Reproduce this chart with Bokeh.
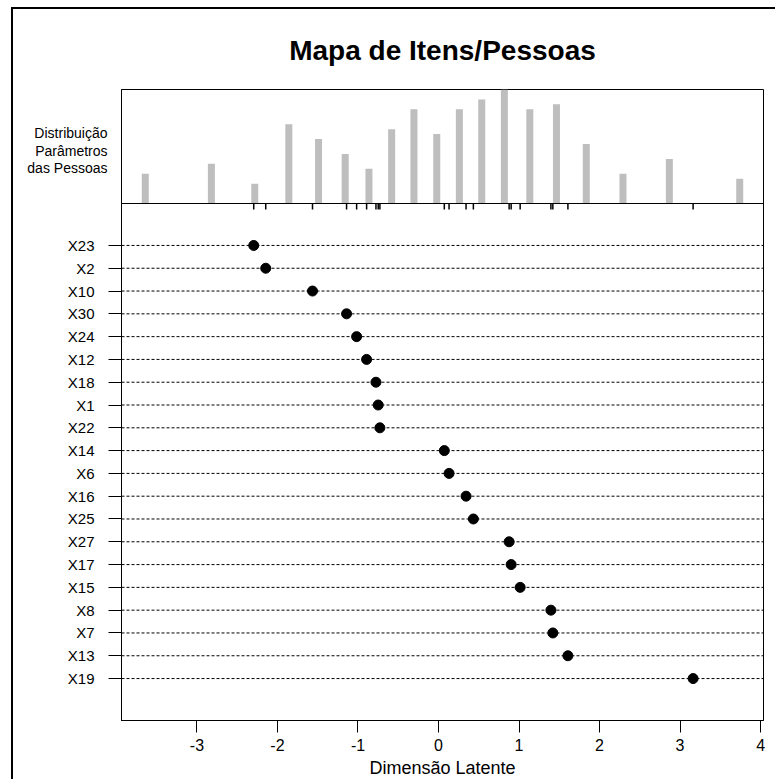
import numpy as np
from bokeh.plotting import figure
from bokeh.models import Range1d, FixedTicker, Span, Title, LinearAxis
from bokeh.embed import file_html
from bokeh.resources import INLINE

# ---------------- data ----------------
items = ["X23", "X2", "X10", "X30", "X24", "X12", "X18", "X1", "X22", "X14",
         "X6", "X16", "X25", "X27", "X17", "X15", "X8", "X7", "X13", "X19"]
item_loc = [-2.295, -2.146, -1.565, -1.142, -1.017, -0.893, -0.777, -0.749, -0.728, 0.072,
            0.131, 0.342, 0.433, 0.877, 0.902, 1.014, 1.396, 1.420, 1.607, 3.162]
person_theta = [-3.642, -2.821, -2.282, -1.859, -1.490, -1.159, -0.864, -0.582, -0.305, -0.022,
                0.259, 0.537, 0.818, 1.134, 1.465, 1.835, 2.291, 2.867, 3.741]
person_count = [6, 8, 4, 16, 13, 10, 7, 15, 19, 14, 19, 21, 23, 19, 20, 12, 6, 9, 5]
x_ticks = [-3, -2, -1, 0, 1, 2, 3, 4]
x_tick_labels = ["-3", "-2", "-1", "0", "1", "2", "3", "4"]
title_text = "Mapa de Itens/Pessoas"
person_label = "Distribuição\nParâmetros\ndas Pessoas"
x_label = "Dimensão Latente"

# ---------------- layout ----------------
OX, OY = 13, 9                             # canvas offset inside the outer frame
W, H = 777 - OX, 781 - OY
BL, BR, BT, BB = 121 - OX, 14, 89 - OY, 61  # borders around the frame (px)
DIV_PX = 203 - OY                          # divider between the two panels (canvas px)
FW, FH = W - BL - BR, H - BT - BB
FONT = "Liberation Sans"

rows = list(range(len(items), 0, -1))      # X23 at top
allx = np.array(item_loc + person_theta)
xr = allx.max() - allx.min()
x_lo, x_hi = allx.min() - 0.04 * xr, allx.max() + 0.04 * xr

y_lo, y_hi = -0.04 * (len(items) + 1), (len(items) + 1) * 1.04
top_px = DIV_PX - BT
bot_px = BT + FH - DIV_PX
y_end = y_hi + (y_hi - y_lo) * top_px / bot_px
cmax = max(person_count)
t_start = -cmax * bot_px / top_px

p = figure(width=W, height=H, output_backend="svg", toolbar_location=None,
           x_range=Range1d(x_lo, x_hi), y_range=Range1d(y_lo, y_end),
           min_border_left=BL, min_border_right=BR, min_border_top=BT, min_border_bottom=BB)
p.styles = {"margin-left": "11px", "margin-top": "7px",
            "border-left": "2px solid black", "border-top": "2px solid black"}
p.extra_y_ranges = {"top": Range1d(t_start, cmax)}
p.xgrid.visible = False
p.ygrid.visible = False
p.outline_line_color = "black"
p.outline_line_width = 1
p.background_fill_color = "white"
p.border_fill_color = "white"

# histogram of persons
p.vbar(x=person_theta, top=person_count, bottom=0, width=0.087, y_range_name="top",
       fill_color="#BEBEBE", line_color=None)
# rug of item locations under the histogram
p.segment(x0=item_loc, x1=item_loc, y0=[0] * len(item_loc),
          y1=[-6 * cmax / top_px] * len(item_loc), y_range_name="top",
          line_color="black", line_width=1.5)
p.add_layout(Span(location=0, dimension="width", y_range_name="top",
                  line_color="black", line_width=1))

# dotted item lines and points
p.segment(x0=[x_lo] * len(rows), x1=[x_hi] * len(rows), y0=rows, y1=rows,
          line_color="black", line_dash="3 2", line_width=1)
p.scatter(item_loc, rows, size=10, color="black")

# axes
xa = p.xaxis[0]
xa.ticker = FixedTicker(ticks=x_ticks)
xa.major_label_overrides = {t: s for t, s in zip(x_ticks, x_tick_labels)}
xa.major_tick_out = 12
xa.major_tick_in = 0
xa.minor_tick_line_color = None
xa.major_label_standoff = 6
xa.major_label_text_font = FONT
xa.major_label_text_font_size = "16px"
xa.major_label_text_color = "black"
xa.axis_label = x_label
xa.axis_label_text_font = FONT
xa.axis_label_text_font_style = "normal"
xa.axis_label_text_font_size = "18px"
xa.axis_label_text_color = "black"
xa.axis_label_standoff = 4
xa.axis_line_color = "black"

ya = p.yaxis[0]
ya.ticker = FixedTicker(ticks=rows)
ya.major_label_overrides = {r: n for r, n in zip(rows, items)}
ya.major_tick_out = 13
ya.major_tick_in = 0
ya.minor_tick_line_color = None
ya.major_label_standoff = 14
ya.major_label_text_font = FONT
ya.major_label_text_font_size = "15px"
ya.major_label_text_color = "black"
ya.axis_line_color = "black"

# left label of the top panel: a single tick label on an axis of the histogram's range
label_at = cmax * (DIV_PX - (150 - OY)) / top_px
pa = LinearAxis(y_range_name="top", ticker=FixedTicker(ticks=[label_at]))
pa.major_label_overrides = {label_at: person_label}
pa.axis_line_color = None
pa.major_tick_line_color = None
pa.minor_tick_line_color = None
pa.major_tick_out = 0
pa.major_tick_in = 0
pa.minor_tick_out = 0
pa.major_label_standoff = -43
pa.major_label_text_font = FONT
pa.major_label_text_font_size = "14px"
pa.major_label_text_line_height = 1.1
pa.major_label_text_color = "black"
p.add_layout(pa, "left")

# title
p.add_layout(Title(text=title_text, align="center", text_font=FONT, text_font_size="28px",
                   text_font_style="bold", text_color="black", standoff=47), "above")

open("out.html", "w").write(file_html(p, INLINE))
